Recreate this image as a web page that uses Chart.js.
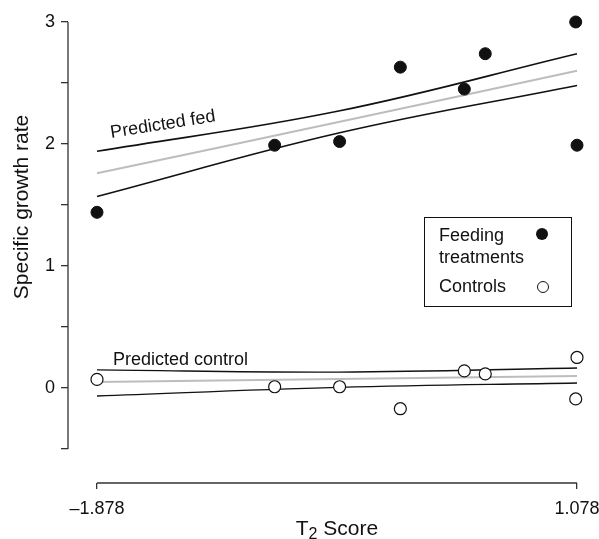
<!DOCTYPE html>
<html>
<head>
<meta charset="utf-8">
<script src="https://cdn.jsdelivr.net/npm/chart.js@4.4.0/dist/chart.umd.min.js"></script>
<style>
  body { margin: 0; background: #fff; }
  canvas { display: block; }
</style>
</head>
<body>
<canvas id="chart" width="599" height="539"></canvas>
<script>
// T2 score of each tank (shared by both groups)
const t2Scores = [-1.878, -0.784, -0.384, -0.010, 0.384, 0.513, 1.07, 1.078];
const fedRates = [1.44, 1.99, 2.02, 2.63, 2.45, 2.74, 3.00, 1.99];
const controlRates = [0.07, 0.01, 0.01, -0.17, 0.14, 0.115, -0.09, 0.25];

// fitted lines and confidence bands, read at the ends and middle of the T2 range
const fitX = [-1.878, -0.39, 1.078];
const fedUpper = [1.94, 2.27, 2.74];
const fedFit = [1.76, 2.18, 2.60];
const fedLower = [1.57, 2.09, 2.48];
const controlUpper = [0.148, 0.13, 0.164];
const controlFit = [0.049, 0.074, 0.098];
const controlLower = [-0.066, 0.005, 0.041];

const yTicks = [-0.5, 0, 0.5, 1, 1.5, 2, 2.5, 3];
const xTicks = [-1.878, 1.078];
const xTickLabels = ['\u20131.878', '1.078'];

const FONT = "'Liberation Sans', Arial, Helvetica, sans-serif";

const pts = (xs, ys) => xs.map((x, i) => ({ x: x, y: ys[i] }));

function lineSet(ys, color, width) {
    return {
        data: pts(fitX, ys),
        showLine: true,
        tension: 0.4,
        borderColor: color,
        borderWidth: width,
        pointRadius: 0,
        fill: false
    };
}

const decorations = {
    id: 'decorations',
    afterDraw(chart) {
        const ctx = chart.ctx;
        const xs = chart.scales.x;
        const ys = chart.scales.y;
        const area = chart.chartArea;
        ctx.save();

        // axis lines, detached style
        ctx.strokeStyle = '#333';
        ctx.lineWidth = 1.3;
        ctx.beginPath();
        ctx.moveTo(area.left, ys.getPixelForValue(yTicks[0]));
        ctx.lineTo(area.left, ys.getPixelForValue(yTicks[yTicks.length - 1]));
        ctx.moveTo(xs.getPixelForValue(xTicks[0]), area.bottom);
        ctx.lineTo(xs.getPixelForValue(xTicks[1]), area.bottom);
        ctx.stroke();

        ctx.fillStyle = '#111';

        // line labels
        ctx.font = '18px ' + FONT;
        ctx.textAlign = 'left';
        ctx.textBaseline = 'alphabetic';
        ctx.save();
        ctx.translate(xs.getPixelForValue(-1.79), ys.getPixelForValue(2.05));
        ctx.rotate(-9 * Math.PI / 180);
        ctx.fillText('Predicted fed', 0, 0);
        ctx.restore();
        ctx.fillText('Predicted control', xs.getPixelForValue(-1.78), ys.getPixelForValue(0.19));

        // axis titles
        ctx.font = '21px ' + FONT;
        ctx.save();
        ctx.translate(28, 207);
        ctx.rotate(-Math.PI / 2);
        ctx.textAlign = 'center';
        ctx.fillText('Specific growth rate', 0, 0);
        ctx.restore();

        const tW = ctx.measureText('T').width;
        const sW = ctx.measureText(' Score').width;
        ctx.font = '16px ' + FONT;
        const subW = ctx.measureText('2').width;
        let tx = 337 - (tW + subW + sW) / 2;
        const base = 535;
        ctx.font = '21px ' + FONT;
        ctx.fillText('T', tx, base);
        ctx.font = '16px ' + FONT;
        ctx.fillText('2', tx + tW, base + 4);
        ctx.font = '21px ' + FONT;
        ctx.fillText(' Score', tx + tW + subW, base);

        // legend
        const lx = 424, ly = 217, lw = 147, lh = 89;
        ctx.strokeStyle = '#111';
        ctx.lineWidth = 1;
        ctx.strokeRect(lx + 0.5, ly + 0.5, lw, lh);
        ctx.font = '18px ' + FONT;
        ctx.textBaseline = 'middle';
        ctx.textAlign = 'left';
        ctx.fillText('Feeding', lx + 15, ly + 19);
        ctx.fillText('treatments', lx + 15, ly + 41);
        ctx.fillText('Controls', lx + 15, ly + 70);
        ctx.beginPath();
        ctx.arc(lx + 118, ly + 17, 6, 0, Math.PI * 2);
        ctx.fillStyle = '#111';
        ctx.fill();
        ctx.beginPath();
        ctx.arc(lx + 119, ly + 70, 5.5, 0, Math.PI * 2);
        ctx.fillStyle = '#fff';
        ctx.fill();
        ctx.stroke();

        ctx.restore();
    }
};

new Chart(document.getElementById('chart'), {
    type: 'scatter',
    data: {
        datasets: [
            {
                label: 'Feeding treatments',
                data: pts(t2Scores, fedRates),
                pointRadius: 6,
                pointBackgroundColor: '#111',
                pointBorderColor: '#111',
                pointBorderWidth: 1,
                clip: false
            },
            {
                label: 'Controls',
                data: pts(t2Scores, controlRates),
                pointRadius: 6,
                pointBackgroundColor: '#fff',
                pointBorderColor: '#111',
                pointBorderWidth: 1.2,
                clip: false
            },
            lineSet(fedUpper, '#111', 1.6),
            lineSet(fedFit, '#bdbdbd', 2),
            lineSet(fedLower, '#111', 1.6),
            lineSet(controlUpper, '#111', 1.4),
            lineSet(controlFit, '#bdbdbd', 2),
            lineSet(controlLower, '#111', 1.4)
        ]
    },
    options: {
        responsive: false,
        animation: false,
        layout: { padding: { top: 22, right: 9, bottom: 0, left: 0 } },
        plugins: {
            legend: { display: false },
            tooltip: { enabled: false }
        },
        scales: {
            x: {
                type: 'linear',
                min: -2.0566,
                max: 1.158,
                border: { display: false },
                grid: { drawOnChartArea: false, drawTicks: true, tickLength: 6, color: '#333', lineWidth: 1.3 },
                afterBuildTicks: (s) => { s.ticks = xTicks.map(v => ({ value: v })); },
                afterFit: (s) => { s.height = 56; s.paddingLeft = 0; s.paddingRight = 0; },
                ticks: {
                    autoSkip: false,
                    maxRotation: 0,
                    padding: 9,
                    color: '#111',
                    font: { family: FONT, size: 18 },
                    callback: (v) => xTickLabels[xTicks.indexOf(v)]
                }
            },
            y: {
                type: 'linear',
                min: -0.779,
                max: 3,
                border: { display: false },
                grid: { drawOnChartArea: false, drawTicks: true, tickLength: 7, color: '#333', lineWidth: 1.3 },
                afterBuildTicks: (s) => { s.ticks = yTicks.map(v => ({ value: v })); },
                afterFit: (s) => { s.width = 68; s.paddingTop = 0; s.paddingBottom = 0; },
                ticks: {
                    autoSkip: false,
                    padding: 6,
                    color: '#111',
                    font: { family: FONT, size: 18 },
                    callback: (v) => Number.isInteger(v) ? String(v) : ''
                }
            }
        }
    },
    plugins: [decorations]
});
</script>
</body>
</html>
